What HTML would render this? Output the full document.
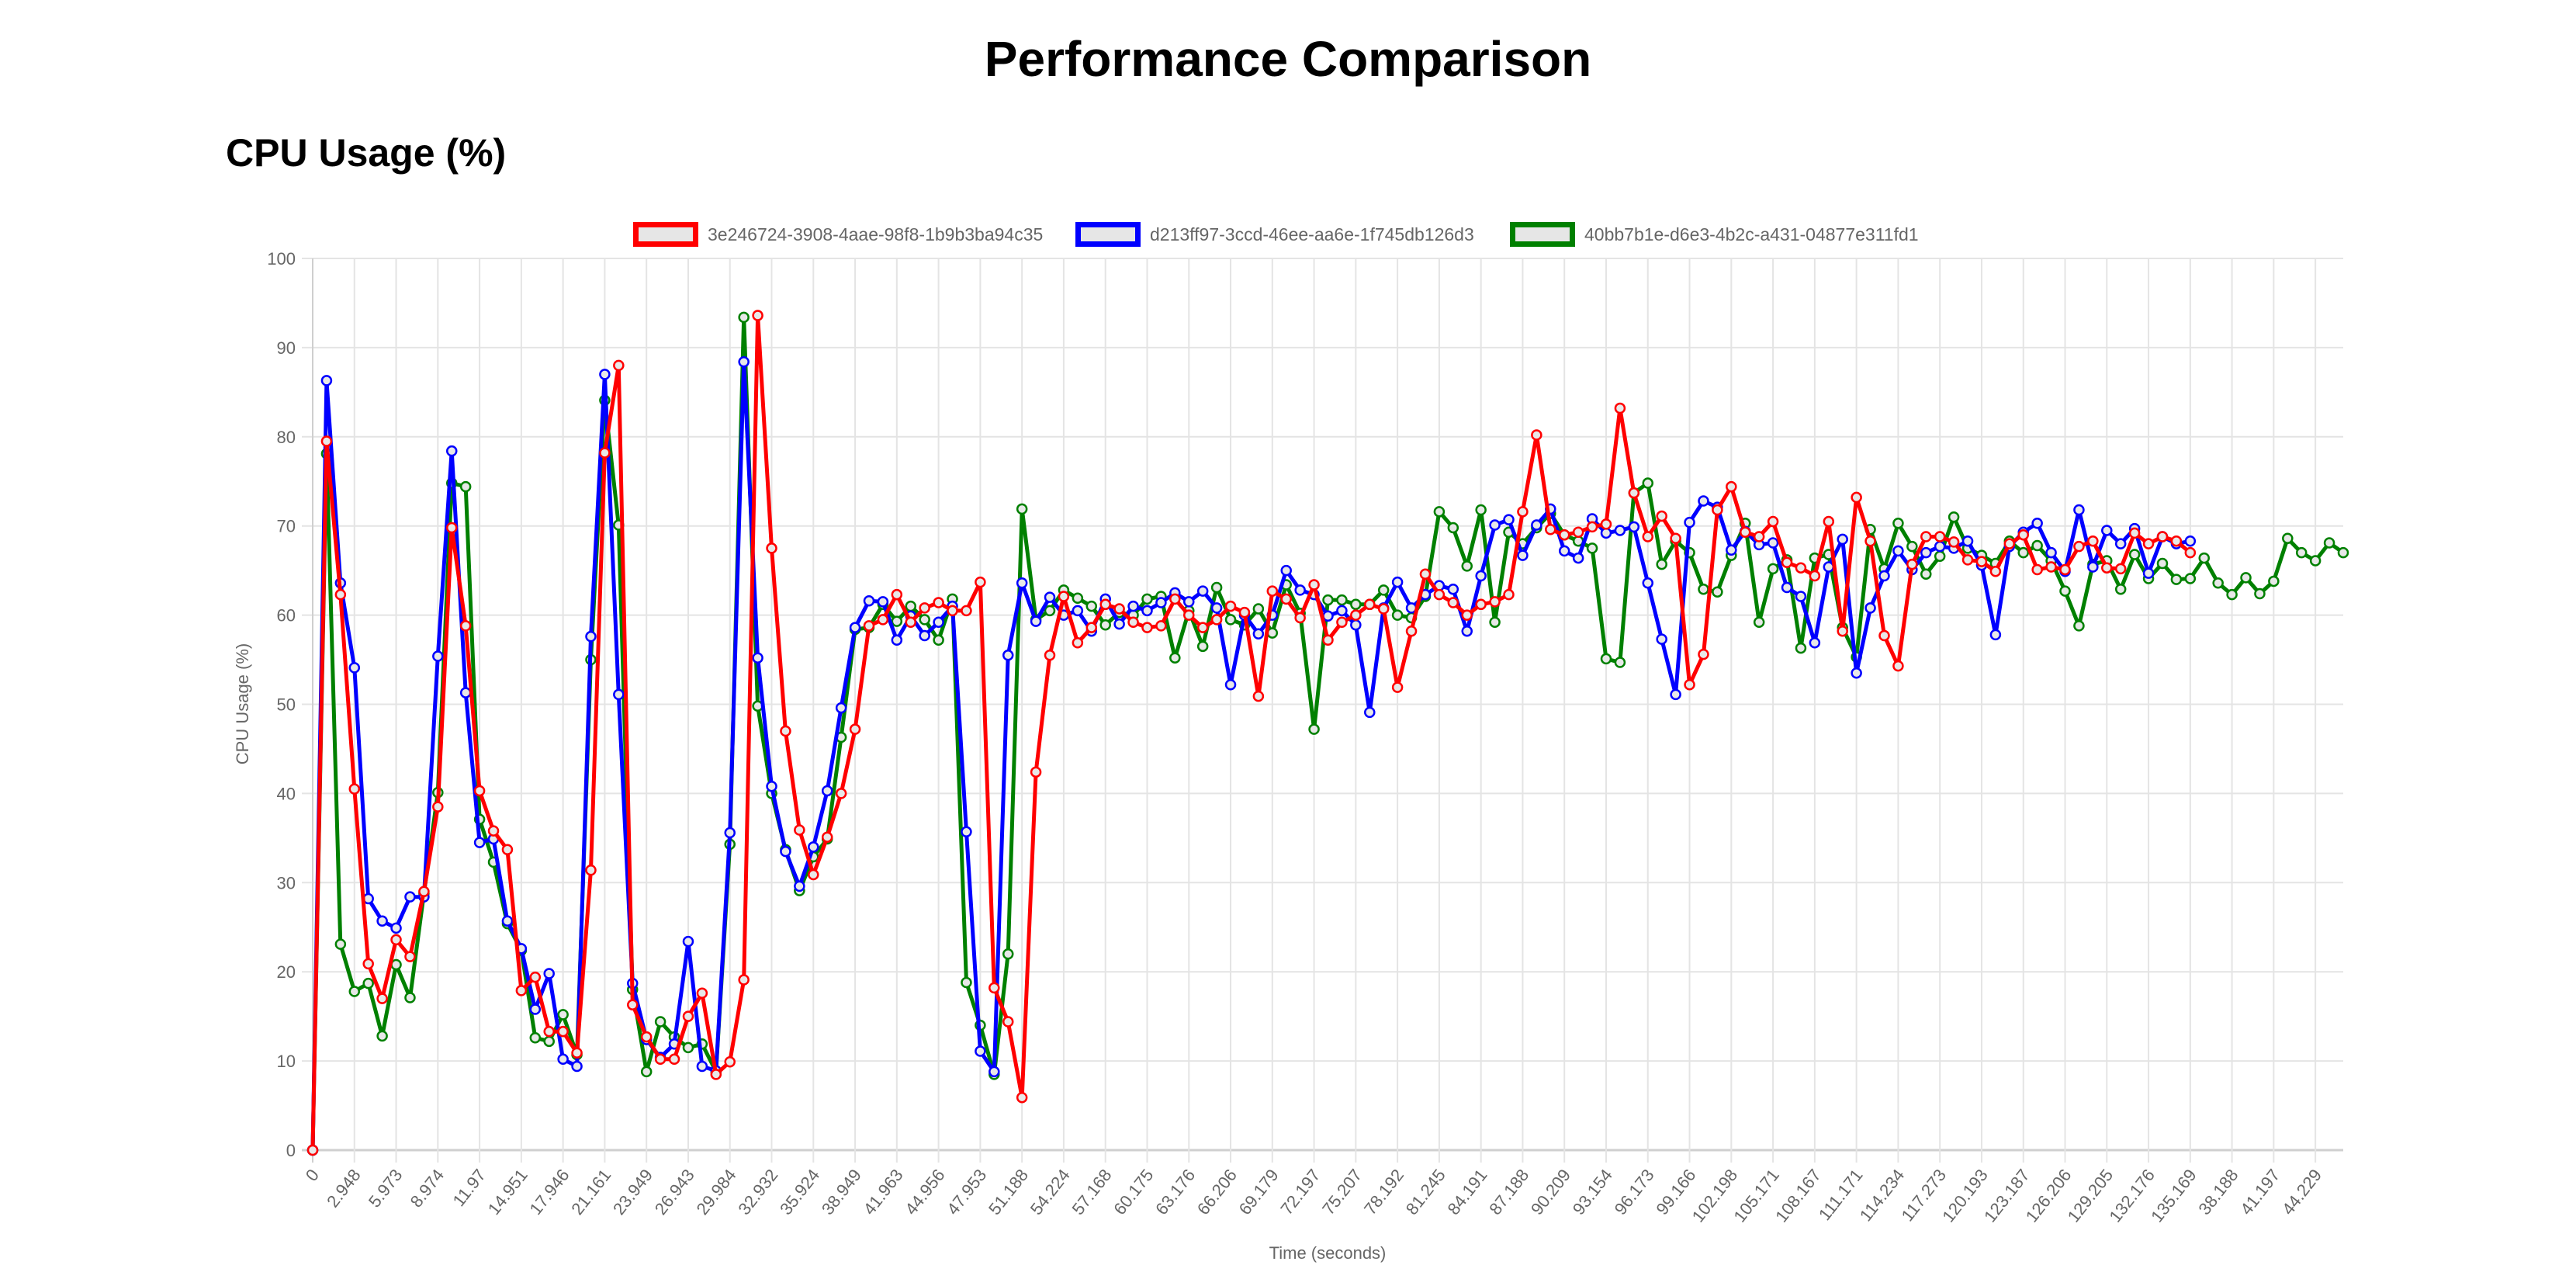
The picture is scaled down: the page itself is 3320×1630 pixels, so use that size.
<!DOCTYPE html>
<html><head><meta charset="utf-8"><style>
html,body{margin:0;padding:0;background:#fff;width:3320px;height:1630px;overflow:hidden}
svg{display:block}
text{font-family:"Liberation Sans",Arial,sans-serif}
</style></head><body>
<svg id="chart" width="3320" height="1630" viewBox="0 0 3320 1630" xmlns="http://www.w3.org/2000/svg">
<text x="1660" y="98" text-anchor="middle" font-size="64" font-weight="bold" fill="#000">Performance Comparison</text>
<text x="291" y="214" font-size="50" font-weight="bold" fill="#000">CPU Usage (%)</text>
<g id="grid"></g>
<g id="axes"></g>
<g id="series"></g>
<g id="legend"></g>
<text x="1711" y="1622" text-anchor="middle" font-size="22" fill="#666">Time (seconds)</text>
<text x="0" y="0" transform="translate(320,907) rotate(-90)" text-anchor="middle" font-size="22" fill="#666">CPU Usage (%)</text>
</svg>
<script>
const seriesNames = ["3e246724-3908-4aae-98f8-1b9b3ba94c35","d213ff97-3ccd-46ee-aa6e-1f745db126d3","40bb7b1e-d6e3-4b2c-a431-04877e311fd1"];
const seriesColors = ["#ff0000","#0000ff","#008000"];
const tickLabels = ["0","2.948","5.973","8.974","11.97","14.951","17.946","21.161","23.949","26.943","29.984","32.932","35.924","38.949","41.963","44.956","47.953","51.188","54.224","57.168","60.175","63.176","66.206","69.179","72.197","75.207","78.192","81.245","84.191","87.188","90.209","93.154","96.173","99.166","102.198","105.171","108.167","111.171","114.234","117.273","120.193","123.187","126.206","129.205","132.176","135.169","38.188","41.197","44.229"];
const yTicks = [0,10,20,30,40,50,60,70,80,90,100];
const redValues = [0,79.5,62.3,40.5,20.9,17.0,23.6,21.7,29.0,38.5,
69.8,58.8,40.3,35.8,33.7,17.9,19.4,13.3,13.3,10.9,
31.4,78.2,88.0,16.3,12.7,10.2,10.2,15.0,17.6,8.5,
9.9,19.1,93.6,67.5,47.0,35.9,30.9,35.1,40.0,47.2,
58.8,59.5,62.3,59.2,60.8,61.4,60.5,60.5,63.7,18.2,
14.4,5.9,42.4,55.5,62.1,56.9,58.6,61.2,60.7,59.2,
58.6,58.8,61.8,60.0,58.6,59.5,61.0,60.3,50.9,62.7,
61.8,59.7,63.4,57.2,59.2,60.0,61.2,60.7,51.9,58.2,
64.6,62.3,61.4,60.0,61.2,61.5,62.3,71.6,80.2,69.6,
69.0,69.3,69.9,70.2,83.2,73.7,68.8,71.1,68.6,52.2,
55.6,71.8,74.4,69.3,68.8,70.5,65.9,65.3,64.4,70.5,
58.2,73.2,68.3,57.7,54.3,65.7,68.8,68.8,68.2,66.2,
66.0,64.9,68.0,69.0,65.1,65.4,65.1,67.7,68.3,65.3,
65.2,69.2,68.0,68.8,68.3,67.0];
const blueValues = [0,86.3,63.6,54.1,28.2,25.7,24.9,28.4,28.4,55.4,
78.4,51.3,34.5,34.9,25.7,22.6,15.8,19.8,10.2,9.4,
57.6,87.0,51.1,18.7,12.4,10.4,11.9,23.4,9.4,8.9,
35.6,88.4,55.2,40.8,33.5,29.6,34.0,40.3,49.6,58.6,
61.6,61.5,57.2,59.9,57.7,59.2,61.0,35.7,11.1,8.8,
55.5,63.6,59.3,62.0,60.0,60.5,58.2,61.8,59.0,61.0,
60.5,61.4,62.5,61.5,62.7,60.8,52.2,60.0,57.9,60.0,
65.0,62.8,62.3,59.9,60.5,58.9,49.1,60.8,63.7,60.8,
62.3,63.3,62.9,58.2,64.4,70.1,70.7,66.7,70.1,71.9,
67.2,66.4,70.8,69.2,69.5,69.9,63.6,57.3,51.1,70.4,
72.8,72.1,67.3,69.4,67.9,68.1,63.1,62.1,56.9,65.4,
68.5,53.5,60.8,64.4,67.2,65.1,67.0,67.7,67.5,68.3,
65.6,57.8,67.7,69.3,70.3,67.0,64.9,71.8,65.4,69.5,
68.0,69.7,64.7,68.8,68.0,68.3];
const greenValues = [0,78.1,23.1,17.8,18.7,12.8,20.8,17.1,28.8,40.1,
74.8,74.4,37.1,32.3,25.4,22.4,12.6,12.2,15.2,10.7,
55.0,84.1,70.1,18.0,8.8,14.4,12.7,11.5,11.9,8.8,
34.3,93.4,49.8,40.0,33.7,29.1,32.9,34.9,46.3,58.4,
58.6,61.2,59.3,61.0,59.5,57.2,61.8,18.8,14.0,8.5,
22.0,71.9,59.5,60.5,62.8,61.9,61.0,58.9,60.3,60.0,
61.8,62.1,55.2,60.5,56.5,63.1,59.5,58.9,60.7,58.0,
63.4,60.2,47.2,61.7,61.7,61.2,61.2,62.8,60.0,59.7,
62.1,71.6,69.8,65.5,71.8,59.2,69.3,68.0,69.8,71.4,
69.0,68.3,67.5,55.1,54.7,73.7,74.8,65.7,68.3,67.0,
62.9,62.6,66.7,70.3,59.2,65.2,66.2,56.3,66.4,66.8,
58.6,55.3,69.6,65.2,70.3,67.7,64.6,66.6,71.0,67.5,
66.7,65.8,68.3,67.0,67.8,66.1,62.7,58.8,65.7,66.1,
62.9,66.8,64.1,65.8,64.0,64.1,66.4,63.6,62.3,64.2,
62.4,63.8,68.6,67.0,66.1,68.1,67.0];

const NS = "http://www.w3.org/2000/svg";
const L = 403, R = 3020, T = 333, B = 1482;
const TICK_STEP = 3;
const N = Math.max(redValues.length, blueValues.length, greenValues.length, (tickLabels.length - 1) * TICK_STEP + 1);
function xOf(i){ return L + i * (R - L) / (N - 1); }
function yOf(v){ return B - (v - 0) / (100 - 0) * (B - T); }
function mk(tag, attrs, parent){ const e = document.createElementNS(NS, tag); for (const k in attrs) e.setAttribute(k, attrs[k]); parent.appendChild(e); return e; }

const grid = document.getElementById('grid');
const axes = document.getElementById('axes');
yTicks.forEach(v => {
  const y = yOf(v);
  const gl = mk('line', {x1: L - 14, x2: R, y1: y, y2: y, stroke: v === 0 ? '#cfcfcf' : '#e4e4e4', 'stroke-width': v === 0 ? 3 : 2}, grid);
  
  
  const t = mk('text', {x: L - 22, y: y + 8, 'text-anchor': 'end', 'font-size': 22, fill: '#666'}, axes);
  t.textContent = String(v);
  
  
});
tickLabels.forEach((lab, k) => {
  const x = xOf(k * TICK_STEP);
  const gl = mk('line', {x1: x, x2: x, y1: T, y2: B + 16, stroke: k === 0 ? '#cfcfcf' : '#e4e4e4', 'stroke-width': 2}, grid);
  
  
  const t = mk('text', {x: 0, y: 0, 'text-anchor': 'end', 'font-size': 22, fill: '#666', transform: `translate(${x + 9},${B + 32}) rotate(-52)`}, axes);
  t.textContent = lab;
  
  
});

const seriesEl = document.getElementById('series');
const allValues = [redValues, blueValues, greenValues];
for (let s = allValues.length - 1; s >= 0; s--) {
  const vals = allValues[s];
  const g = mk('g', {}, seriesEl);
  
  
  const pts = vals.map((v, i) => xOf(i).toFixed(1) + ',' + yOf(v).toFixed(1)).join(' ');
  const pl = mk('polyline', {points: pts, fill: 'none', stroke: seriesColors[s], 'stroke-width': 5, 'stroke-linejoin': 'round'}, g);
  
  
  vals.forEach((v, i) => {
    const c = mk('circle', {cx: xOf(i), cy: yOf(v), r: 6, fill: '#e8e8e8', stroke: seriesColors[s], 'stroke-width': 2.5}, g);
    
    
  });
}

const legend = document.getElementById('legend');
const legendX = [816, 1386, 1946];
seriesNames.forEach((name, s) => {
  const g = mk('g', {}, legend);
  
  
  mk('rect', {x: legendX[s] + 3.5, y: 289.5, width: 77, height: 25, fill: '#e6e6e6', stroke: seriesColors[s], 'stroke-width': 7}, g);
  const t = mk('text', {x: legendX[s] + 96, y: 310, 'font-size': 23, fill: '#666'}, g);
  t.textContent = name;
});
</script>
</body></html>
